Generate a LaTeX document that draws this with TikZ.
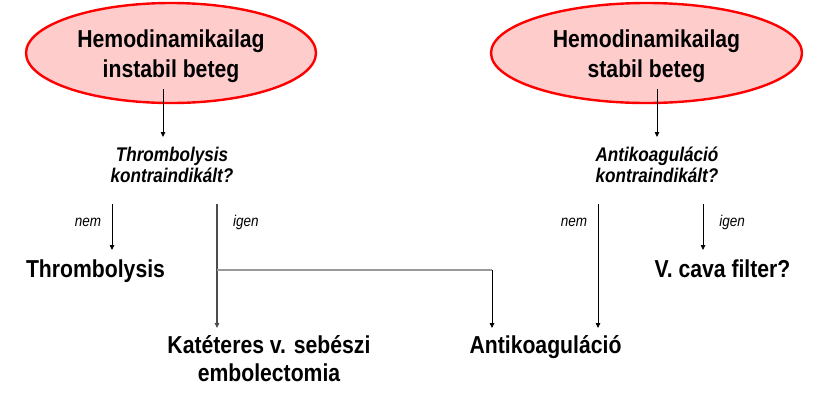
\documentclass[tikz,border=0pt]{standalone}
\usepackage{fontspec}
\setmainfont{Liberation Sans}[FakeStretch=0.865]
\usetikzlibrary{arrows.meta,positioning,shapes.geometric}

\begin{document}
\begin{tikzpicture}[
    x=1pt, y=1pt,
    oval/.style={ellipse, draw=red, line width=2.4pt, fill=red!20,
      inner sep=0pt, minimum height=100, align=center, text height=53.5pt,
      font=\fontsize{24.5}{29.7}\selectfont\bfseries},
    quest/.style={align=center, inner xsep=2pt, inner ysep=10pt,
      anchor=north,
      font=\fontsize{19.8}{20.5}\selectfont\bfseries\itshape},
    res/.style={align=center, inner xsep=2pt, inner ysep=7pt,
      anchor=north,
      font=\fontsize{24.5}{28.5}\selectfont\bfseries},
    lbl/.style={font=\fontsize{15.6}{17}\selectfont\itshape, inner sep=0pt},
    arrow/.style={-{Triangle[length=5pt,width=4.5pt]}, line width=0.8pt, black},
    gline/.style={line width=1.6pt, black!40}
  ]
  \useasboundingbox (0,0) rectangle (837,-416);
  %---- patients ----
  \node[oval, minimum width=290] (instab) at (171,-53)
    {Hemodinamikailag\\instabil beteg};
  \node[oval, minimum width=311] (stab) at (646.5,-53)
    {Hemodinamikailag\\stabil beteg};
  %---- questions ----
  \node[quest] (qthromb) at (172,-137) {Thrombolysis\\kontraindikált?};
  \node[quest] (qanti)   at (657,-137) {Antikoaguláció\\kontraindikált?};
  \coordinate (instabout) at (163,-89);
  \coordinate (stabout)   at (657,-89);
  \draw[arrow] (instabout) -- (instabout |- qthromb.north);
  \draw[arrow] (stabout)   -- (stabout |- qanti.north);
  %---- answers ----
  \node[res, text height=20pt] (thromb) at (95.5,-250)  {Thrombolysis};
  \node[res] (embol)  at (269,-328)   {Katéteres v. sebészi\\embolectomia};
  \node[res] (anti)   at (545.5,-328) {Antikoaguláció};
  \node[res, text height=20pt] (vcava)  at (722.5,-250) {V. cava filter?};
  \coordinate (nem1)  at (112,-204);
  \coordinate (igen1) at (217,-204);
  \coordinate (nem2)  at (598,-204);
  \coordinate (igen2) at (703,-204);
  \node[lbl] (nemlbl1)  at (88,-222)  {nem};
  \node[lbl] (igenlbl1) at (246,-222) {igen};
  \node[lbl] (nemlbl2)  at (574,-222) {nem};
  \node[lbl] (igenlbl2) at (732,-222) {igen};
  \draw[arrow] (nem1) -- (nem1 |- thromb.north);
  \draw[arrow, black!70, line width=1.2pt] (igen1) -- (igen1 |- embol.north);
  \coordinate (split) at (217,-270);
  \coordinate (turn)  at (492,-270);
  \draw[gline] (split) -- (turn);
  \draw[arrow] (turn) -- (turn |- anti.north);
  \draw[arrow] (nem2)  -- (nem2 |- anti.north);
  \draw[arrow] (igen2) -- (igen2 |- vcava.north);
\end{tikzpicture}
\end{document}
